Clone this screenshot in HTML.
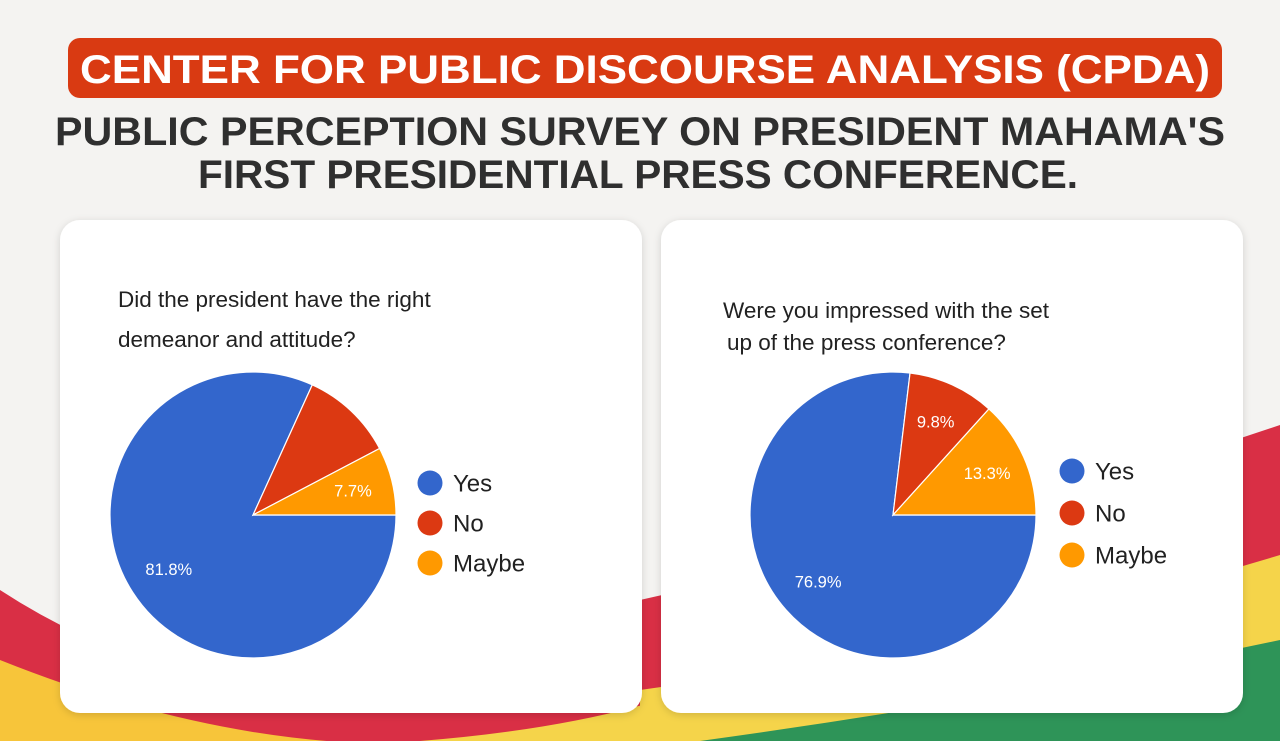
<!DOCTYPE html>
<html><head><meta charset="utf-8"><style>
html,body{margin:0;padding:0;background:#f4f3f1;}
svg{display:block;font-family:"Liberation Sans",Arial,sans-serif;}
</style></head><body>
<svg width="1280" height="741" viewBox="0 0 1280 741">
<defs><filter id="sh" x="-5%" y="-5%" width="110%" height="110%"><feDropShadow dx="0" dy="2" stdDeviation="4" flood-color="#000" flood-opacity="0.15"/></filter></defs>
<rect width="1280" height="741" fill="#f4f3f1"/>
<g>
<path d="M0 590 Q260 760 700 690 L720 741 L0 741Z" fill="#d92f45"/>
<path d="M0 660 Q250 760 470 741 L0 741Z" fill="#f7c53a"/>
<path d="M420 741 Q560 730 660 700 L700 741Z" fill="#f5d44a"/>
<path d="M1280 425 L1280 741 L640 741 L640 600 Q1000 520 1280 425Z" fill="#d92f45"/>
<path d="M1280 555 L1280 741 L640 741 L640 690 Q1000 640 1280 555Z" fill="#f5d44a"/>
<path d="M1280 640 L1280 741 L700 741 Q1000 700 1280 640Z" fill="#2e9458"/>
</g>
<rect x="68" y="38" width="1154" height="60" rx="12" fill="#d93a12"/>
<text x="645" y="83" text-anchor="middle" font-size="40" font-weight="bold" fill="#fff" textLength="1130" lengthAdjust="spacingAndGlyphs">CENTER FOR PUBLIC DISCOURSE ANALYSIS (CPDA)</text>
<text x="640" y="145" text-anchor="middle" font-size="40" font-weight="bold" fill="#2f2f2f" textLength="1170" lengthAdjust="spacingAndGlyphs">PUBLIC PERCEPTION SURVEY ON PRESIDENT MAHAMA'S</text>
<text x="638" y="188" text-anchor="middle" font-size="40" font-weight="bold" fill="#2f2f2f" textLength="880" lengthAdjust="spacingAndGlyphs">FIRST PRESIDENTIAL PRESS CONFERENCE.</text>
<rect x="60" y="220" width="582" height="493" rx="20" fill="#fff" filter="url(#sh)"/>
<rect x="661" y="220" width="582" height="493" rx="20" fill="#fff" filter="url(#sh)"/>
<text x="118" y="307" font-size="22.5" fill="#212121">Did the president have the right</text>
<text x="118" y="347" font-size="22.5" fill="#212121">demeanor and attitude?</text>
<text x="723" y="318" font-size="22.5" fill="#212121">Were you impressed with the set</text>
<text x="727" y="350" font-size="22.5" fill="#212121">up of the press conference?</text>
<g id="charts"></g>
</svg>
<script>
const categories = ["Yes","No","Maybe"];
const colors = ["#3366cc","#dc3912","#ff9900"];
const chart1Values = [81.8, 10.5, 7.7];
const chart1Labels = ["81.8%", "", "7.7%"];
const chart2Values = [76.9, 9.8, 13.3];
const chart2Labels = ["76.9%", "9.8%", "13.3%"];
const NS = "http://www.w3.org/2000/svg";
const root = document.getElementById('charts');
function mk(tag, attrs, parent){const e=document.createElementNS(NS,tag);for(const k in attrs)e.setAttribute(k,attrs[k]);parent.appendChild(e);return e;}
function drawPie(cx, cy, r, values, labels, legendX, legendY, legendGap, prefix){
  const g = mk('g', {}, root);
  
  
  const total = values.reduce((a,b)=>a+b,0);
  let a0 = 0;
  values.forEach((v,i)=>{
    const a1 = a0 + v/total*2*Math.PI;
    const x0=cx+r*Math.cos(a0), y0=cy+r*Math.sin(a0), x1=cx+r*Math.cos(a1), y1=cy+r*Math.sin(a1);
    const large = (a1-a0)>Math.PI?1:0;
    const p = mk('path', {d:`M${cx} ${cy} L${x0} ${y0} A${r} ${r} 0 ${large} 1 ${x1} ${y1} Z`, fill:colors[i], stroke:'#fff', 'stroke-width':1.2}, g);
    
    
    if(labels[i]){
      const am=(a0+a1)/2, lr = v/total>0.5 ? r*0.7 : r*0.72;
      const t = mk('text', {x:cx+lr*Math.cos(am), y:cy+lr*Math.sin(am)+6, 'text-anchor':'middle', 'font-size':16.5, fill:'#fff'}, g);
      t.textContent = labels[i];
      
      
    }
    a0 = a1;
  });
  categories.forEach((c,i)=>{
    const lg = mk('g', {}, g);
    
    
    mk('circle', {cx:legendX, cy:legendY+i*legendGap, r:12.5, fill:colors[i]}, lg);
    const t = mk('text', {x:legendX+23, y:legendY+i*legendGap+8.5, 'font-size':24, fill:'#212121'}, lg);
    t.textContent = c;
  });
}
drawPie(253, 515, 143, chart1Values, chart1Labels, 430, 483, 40, 'chart1');
drawPie(893, 515, 143, chart2Values, chart2Labels, 1072, 471, 42, 'chart2');
</script>
</body></html>
